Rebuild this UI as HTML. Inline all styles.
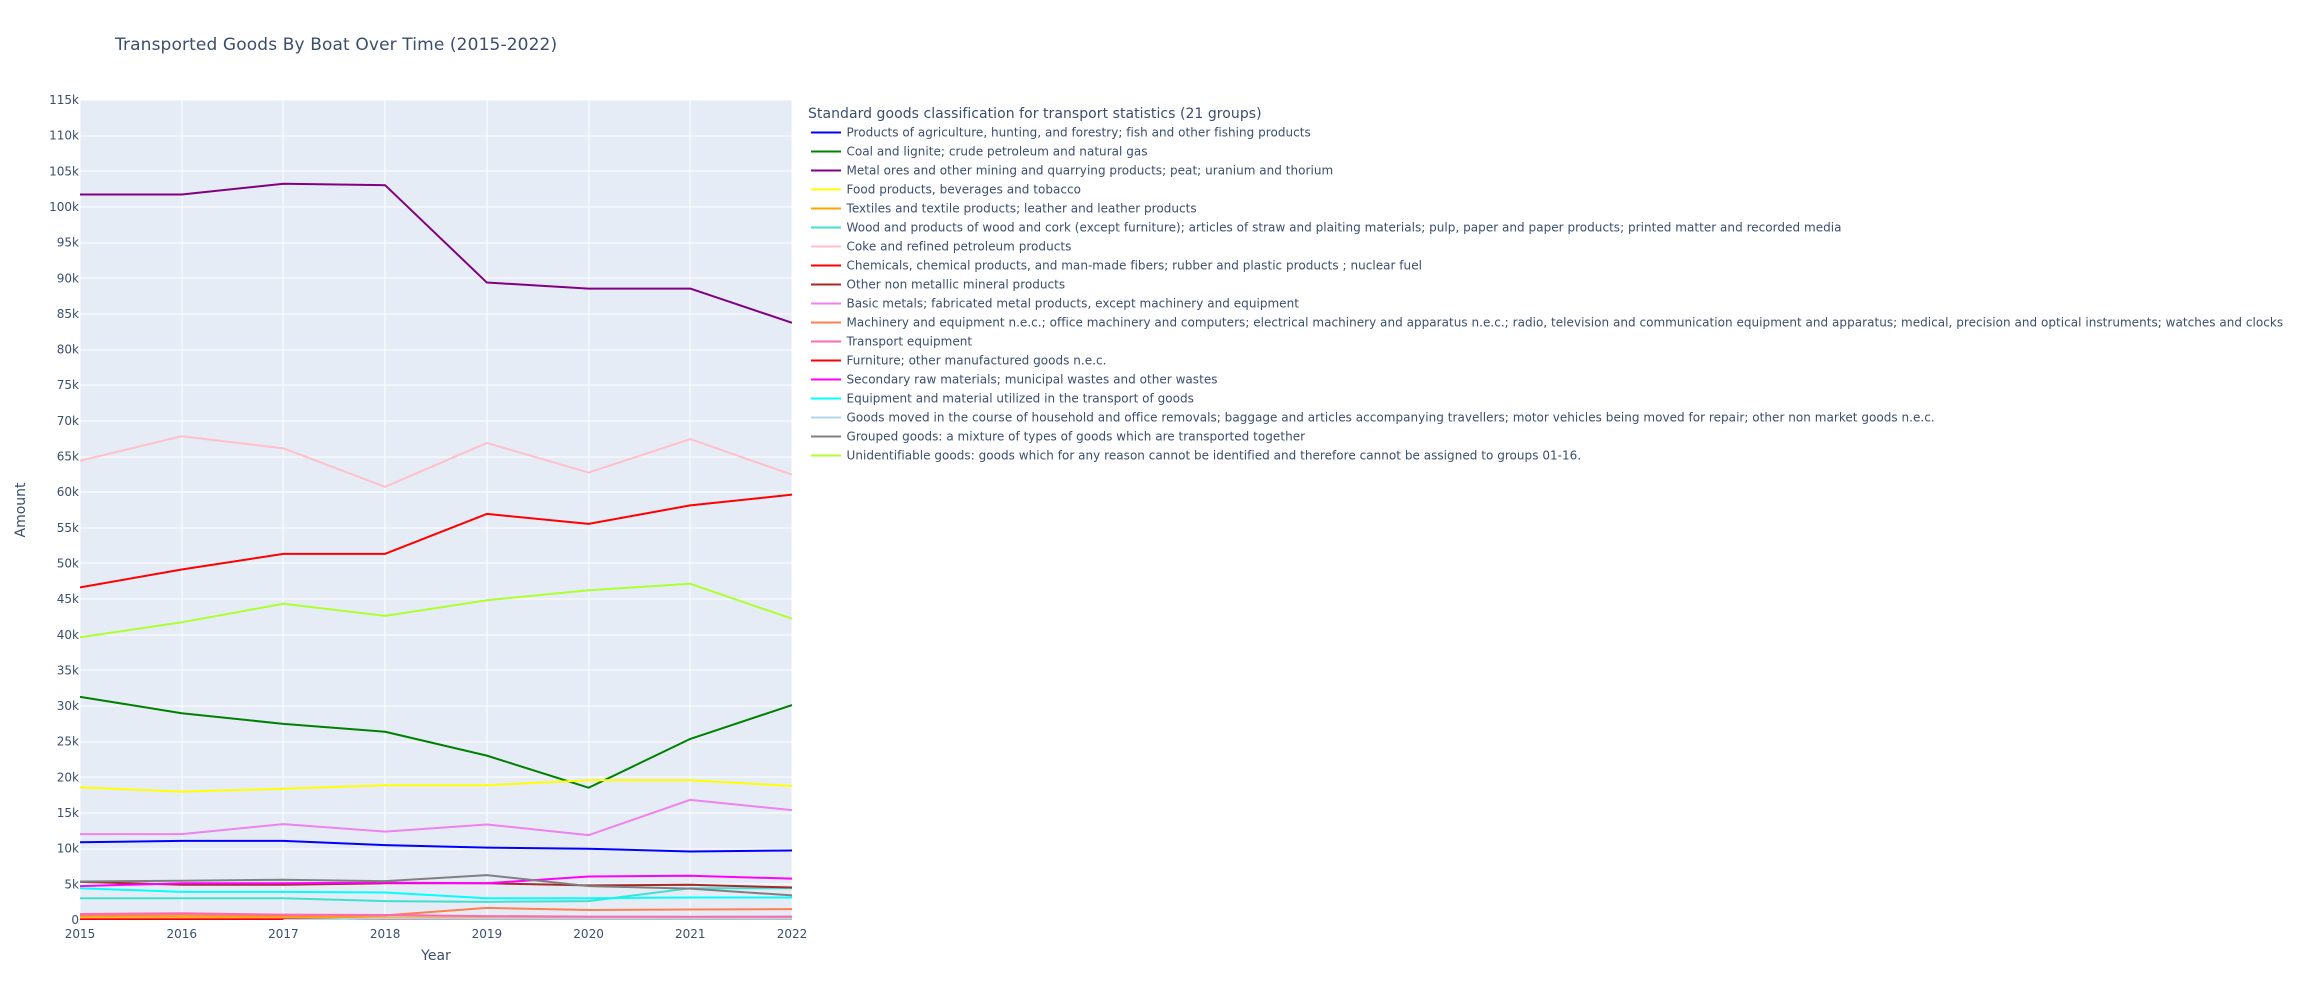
<!DOCTYPE html>
<html lang="en">
<head>
<meta charset="utf-8">
<title>Transported Goods By Boat Over Time (2015-2022)</title>
<style>
html,body{margin:0;padding:0;background:#fff;width:2300px;height:1000px;overflow:hidden}
svg{display:block}
text{font-family:"DejaVu Sans","Liberation Sans",sans-serif;fill:#3a4e6d}
</style>
</head>
<body>
<svg id="chart" xmlns="http://www.w3.org/2000/svg" width="2300" height="1000" viewBox="0 0 2300 1000">
  <rect x="0" y="0" width="2300" height="1000" fill="#ffffff"/>
  <rect x="80" y="100" width="712" height="820" fill="#E5ECF6"/>
  <defs><clipPath id="plot-clip"><rect x="80" y="100" width="712" height="820"/></clipPath></defs>
  <g id="grid"></g>
  <g id="series" clip-path="url(#plot-clip)"></g>
  <g id="y-ticks"></g>
  <g id="x-ticks"></g>
  <text x="115" y="50" font-size="17" letter-spacing="0.125">Transported Goods By Boat Over Time (2015-2022)</text>
  <text x="436" y="960" font-size="14" text-anchor="middle">Year</text>
  <text x="0" y="0" font-size="14" text-anchor="middle" transform="translate(25 510) rotate(-90)">Amount</text>
  <text x="808" y="118" font-size="14" letter-spacing="0.045">Standard goods classification for transport statistics (21 groups)</text>
  <g id="legend"></g>
</svg>
<script>
const years = [2015, 2016, 2017, 2018, 2019, 2020, 2021, 2022];
const yTickValues = [0, 5000, 10000, 15000, 20000, 25000, 30000, 35000, 40000, 45000, 50000, 55000, 60000, 65000, 70000, 75000, 80000, 85000, 90000, 95000, 100000, 105000, 110000, 115000];
const yTickLabels = ["0", "5k", "10k", "15k", "20k", "25k", "30k", "35k", "40k", "45k", "50k", "55k", "60k", "65k", "70k", "75k", "80k", "85k", "90k", "95k", "100k", "105k", "110k", "115k"];

const agriculture = [10900, 11100, 11100, 10500, 10150, 10000, 9600, 9750];
const coal = [31300, 29000, 27500, 26400, 23050, 18550, 25400, 30150];
const metalOres = [101750, 101750, 103250, 103050, 89400, 88550, 88550, 83750];
const food = [18600, 18000, 18400, 18900, 18900, 19600, 19600, 18800];
const textiles = [450, 450, 430, 350, 300, 260, 220, 200];
const wood = [3050, 3050, 3050, 2650, 2550, 2650, 4450, 4450];
const coke = [64400, 67850, 66150, 60750, 66900, 62750, 67450, 62450];
const chemicals = [46650, 49150, 51350, 51350, 56950, 55550, 58150, 59650];
const nonMetallic = [5350, 4950, 4950, 5150, 5150, 4850, 4950, 4550];
const basicMetals = [12050, 12050, 13450, 12400, 13400, 11900, 16850, 15400];
const machinery = [700, 750, 650, 650, 1700, 1400, 1470, 1520];
const transportEquipment = [850, 950, 750, 700, 550, 480, 450, 480];
const furniture = [100, 100, 100, 170, 170, 170, 170, 170];
const secondaryRaw = [4750, 5150, 5150, 5250, 5150, 6100, 6200, 5800];
const equipmentMaterial = [4450, 3950, 3950, 3850, 3050, 3050, 3150, 3150];
const goodsMoved = [null, null, 0, 230, 210, 200, 200, 200];
const groupedGoods = [5400, 5500, 5650, 5450, 6300, 4750, 4400, 3450];
const unidentifiable = [39650, 41750, 44350, 42650, 44850, 46250, 47150, 42250];

const seriesNames = [
  "Products of agriculture, hunting, and forestry; fish and other fishing products",
  "Coal and lignite; crude petroleum and natural gas",
  "Metal ores and other mining and quarrying products; peat; uranium and thorium",
  "Food products, beverages and tobacco",
  "Textiles and textile products; leather and leather products",
  "Wood and products of wood and cork (except furniture); articles of straw and plaiting materials; pulp, paper and paper products; printed matter and recorded media",
  "Coke and refined petroleum products",
  "Chemicals, chemical products, and man-made fibers; rubber and plastic products ; nuclear fuel",
  "Other non metallic mineral products",
  "Basic metals; fabricated metal products, except machinery and equipment",
  "Machinery and equipment n.e.c.; office machinery and computers; electrical machinery and apparatus n.e.c.; radio, television and communication equipment and apparatus; medical, precision and optical instruments; watches and clocks",
  "Transport equipment",
  "Furniture; other manufactured goods n.e.c.",
  "Secondary raw materials; municipal wastes and other wastes",
  "Equipment and material utilized in the transport of goods",
  "Goods moved in the course of household and office removals; baggage and articles accompanying travellers; motor vehicles being moved for repair; other non market goods n.e.c.",
  "Grouped goods: a mixture of types of goods which are transported together",
  "Unidentifiable goods: goods which for any reason cannot be identified and therefore cannot be assigned to groups 01-16."
];
const seriesValues = [agriculture, coal, metalOres, food, textiles, wood, coke, chemicals, nonMetallic, basicMetals, machinery, transportEquipment, furniture, secondaryRaw, equipmentMaterial, goodsMoved, groupedGoods, unidentifiable];
const seriesColors = ["blue", "green", "purple", "yellow", "orange", "turquoise", "pink", "red", "brown", "violet", "coral", "hotpink", "red", "magenta", "cyan", "lightblue", "gray", "greenyellow"];

const NS = "http://www.w3.org/2000/svg";
const plotLeft = 80, plotRight = 792, plotTop = 100, plotBottom = 920;
const xMin = 2015, xMax = 2022, yMin = 0, yMax = 115000;
function xScale(v) { return plotLeft + (v - xMin) / (xMax - xMin) * (plotRight - plotLeft); }
function yScale(v) { return plotBottom - (v - yMin) / (yMax - yMin) * (plotBottom - plotTop); }
function make(tag, attrs, parent, content) {
  const el = document.createElementNS(NS, tag);
  for (const k in attrs) el.setAttribute(k, attrs[k]);
  if (content !== undefined) el.textContent = content;
  parent.appendChild(el);
  return el;
}
const gridG = document.getElementById("grid");
const seriesG = document.getElementById("series");
const yTicksG = document.getElementById("y-ticks");
const xTicksG = document.getElementById("x-ticks");
const legendG = document.getElementById("legend");

yTickValues.forEach(function (v, i) {
  const y = Math.round(yScale(v));
  const g = make("line", {x1: plotLeft, x2: plotRight, y1: y, y2: y, stroke: "#ffffff", "stroke-width": i === 0 ? 2 : 1, "shape-rendering": "crispEdges"}, gridG);
  
  
  const t = make("text", {x: plotLeft - 1, y: yScale(v) + 4, "font-size": 12, "text-anchor": "end"}, yTicksG, yTickLabels[i]);
  
  
});
years.forEach(function (yr) {
  const x = Math.round(xScale(yr));
  const g = make("line", {x1: x, x2: x, y1: plotTop, y2: plotBottom, stroke: "#ffffff", "stroke-width": 1, "shape-rendering": "crispEdges"}, gridG);
  
  
  const t = make("text", {x: xScale(yr), y: 938, "font-size": 12, "text-anchor": "middle"}, xTicksG, String(yr));
  
  
});
seriesValues.forEach(function (vals, s) {
  let d = "";
  let started = false;
  vals.forEach(function (v, i) {
    if (v === null) return;
    d += (started ? "L" : "M") + xScale(years[i]).toFixed(2) + "," + yScale(v).toFixed(2);
    started = true;
  });
  const p = make("path", {d: d, fill: "none", stroke: seriesColors[s], "stroke-width": 2, "stroke-linejoin": "round"}, seriesG);
  
  
});
seriesNames.forEach(function (name, s) {
  const y = 132.5 + s * 19;
  const g = make("g", {}, legendG);
  
  
  const l = make("line", {x1: 811, x2: 841, y1: y, y2: y, stroke: seriesColors[s], "stroke-width": 2}, g);
  
  
  const t = make("text", {x: 846.5, y: y + 4, "font-size": 12, "letter-spacing": 0.03}, g, name);
  
  
});
</script>
</body>
</html>
